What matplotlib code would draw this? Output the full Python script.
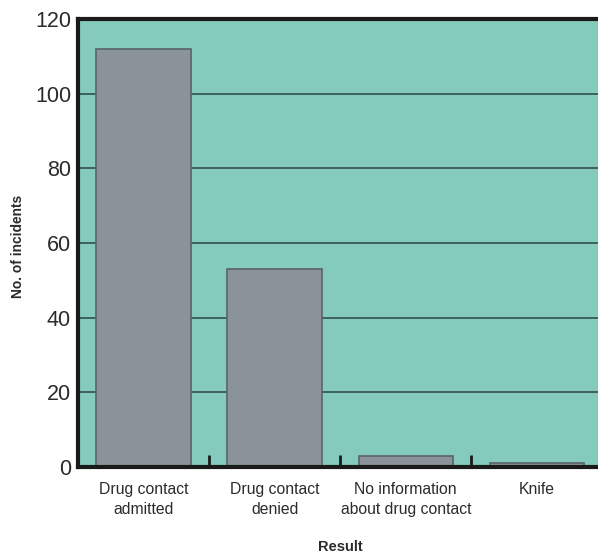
import matplotlib
matplotlib.use("Agg")
import matplotlib.pyplot as plt
import numpy as np

categories = ["Drug contact\nadmitted", "Drug contact\ndenied",
              "No information\nabout drug contact", "Knife"]
incidents = [112, 53, 3, 1]
y_ticks = [0, 20, 40, 60, 80, 100, 120]

plt.rcParams["font.family"] = ["Liberation Sans", "DejaVu Sans"]
text_color = "#2b2b2b"

fig = plt.figure(figsize=(5.98, 5.56), dpi=100)
ax = fig.add_axes([78 / 598, 89 / 556, 524.5 / 598, 448 / 556])
ax.set_facecolor("#84cbbe")

x = np.arange(len(categories))
for y in y_ticks[1:-1]:
    ax.axhline(y, color="#2f4f4a", lw=1.2, zorder=1)
ax.bar(x, incidents, width=0.72, color="#8a9399", edgecolor="#5a6367",
       linewidth=1.2, zorder=2)

ax.set_xlim(-0.5, len(categories) - 0.5)
ax.set_ylim(0, 120)
ax.set_yticks(y_ticks)
ax.tick_params(axis="y", length=0, pad=5, labelsize=15.5,
               labelcolor=text_color)
ax.set_xticks(x)
ax.set_xticklabels(categories, fontsize=11.3, linespacing=1.4,
                   color=text_color)
ax.tick_params(axis="x", which="major", length=0, pad=11)
ax.set_xticks(x[:-1] + 0.5, minor=True)
ax.tick_params(axis="x", which="minor", direction="in", length=9, width=2,
               color="#1a1a1a")

for side in ["left", "bottom", "top"]:
    ax.spines[side].set_linewidth(3)
    ax.spines[side].set_color("#1a1a1a")
ax.spines["right"].set_visible(False)

# axis titles placed in figure coordinates, as in the original layout
fig.text(18 / 598, 1 - 246 / 556, "No. of incidents", rotation=90,
         ha="center", va="center", fontsize=9.9, fontweight="bold",
         color=text_color)
fig.text(340 / 598, 1 - 547 / 556, "Result", ha="center", va="center",
         fontsize=10.5, fontweight="bold", color=text_color)

fig.savefig("out.png", dpi=100)
